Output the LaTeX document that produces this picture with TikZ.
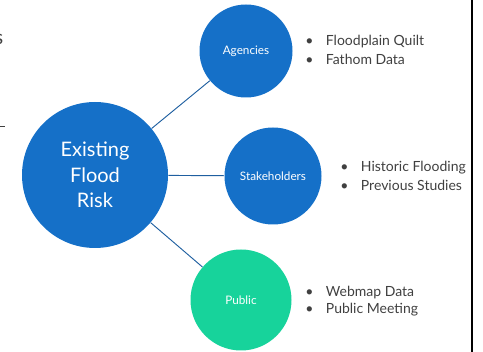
\documentclass[tikz,border=0pt]{standalone}
\usepackage{fontspec}
\setmainfont{Lato}
\definecolor{riskblue}{HTML}{1570C8}
\definecolor{publicgreen}{HTML}{17D39B}
\definecolor{linkblue}{HTML}{1F5FA0}
\definecolor{listgray}{HTML}{404040}
\newcommand{\listbullet}{\makebox[15.5pt][l]{\textbullet}}
\begin{document}
\begin{tikzpicture}[x=0.75pt, y=-0.75pt,
    bubble/.style={circle, fill=riskblue, text=white, inner sep=0pt, align=center},
    link/.style={draw=linkblue, line width=0.7pt},
    listtext/.style={anchor=west, text=listgray, font=\fontsize{10.5}{12}\selectfont, inner sep=0pt}]
    \useasboundingbox (0, 0) rectangle (483, 352);
    % cut-off bits on the left
    \node[anchor=east, text=listgray, font=\fontsize{15}{18}\selectfont, inner sep=0pt] (cut) at (3.5, 39) {s};
    \draw[listgray, line width=0.7pt] (-2, 126) -- (5, 126);
    % bubbles
    \node[bubble, minimum size=146*0.75pt, font=\fontsize{15}{19}\selectfont] (risk) at (95, 175) {Existing\\Flood\\Risk};
    \node[bubble, minimum size=93*0.75pt, font=\fontsize{8.8}{10}\selectfont] (agencies) at (246, 51) {Agencies};
    \node[bubble, minimum size=97*0.75pt, font=\fontsize{8.8}{10}\selectfont] (stake) at (273, 176) {Stakeholders};
    \node[bubble, fill=publicgreen, minimum size=101*0.75pt, font=\fontsize{8.8}{10}\selectfont] (public) at (241, 300) {Public};
    % links
    \draw[link] (risk) -- (agencies);
    \draw[link] (risk) -- (stake);
    \draw[link] (risk) -- (public);
    % lists
    \node[listtext] (a1) at (305, 42) {\listbullet Floodplain Quilt};
    \node[listtext] (a2) at (305, 59) {\listbullet Fathom Data};
    \node[listtext] (s1) at (340, 168) {\listbullet Historic Flooding};
    \node[listtext] (s2) at (340, 185) {\listbullet Previous Studies};
    \node[listtext] (p1) at (305, 293) {\listbullet Webmap Data};
    \node[listtext] (p2) at (305, 310) {\listbullet Public Meeting};
    % frame edge
    \draw[black, line width=1.5pt] (472, 0) -- (472, 352);
\end{tikzpicture}
\end{document}
